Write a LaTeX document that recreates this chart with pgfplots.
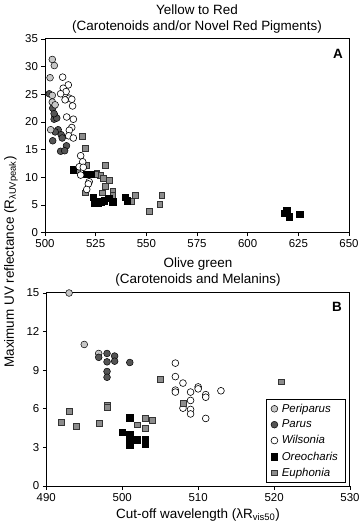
\documentclass[border=0pt]{standalone}
\usepackage{fontspec}
\setmainfont{Liberation Sans}
\usepackage{pgfplots}
\pgfplotsset{compat=1.18}
\definecolor{peri}{gray}{0.78}
\definecolor{paru}{gray}{0.33}
\definecolor{euph}{gray}{0.55}
\pgfplotsset{
  myaxis/.style={
    scale only axis, clip=false,
    axis line style={line width=1bp},
    every tick/.style={line width=0.8bp, black},
    tick align=outside, major tick length=3.5bp,
    xtick pos=bottom, ytick pos=left,
    ticklabel style={font=\fontsize{11.5}{13}\selectfont},
    /pgf/number format/assume math mode=true,
    /pgf/number format/1000 sep={},
  },
  peri/.style={only marks, mark=*, mark size=3.4bp, mark options={fill=peri, draw=black, line width=0.5bp}},
  paru/.style={only marks, mark=*, mark size=3.4bp, mark options={fill=paru, draw=black, line width=0.5bp}},
  wils/.style={only marks, mark=*, mark size=3.4bp, mark options={fill=white, draw=black, line width=0.6bp}},
  oreo/.style={only marks, mark=square*, mark size=3.2bp, mark options={fill=black, draw=black, line width=0.3bp}},
  euph/.style={only marks, mark=square*, mark size=2.9bp, mark options={fill=euph, draw=black!80, line width=0.6bp}},
}
\begin{document}
\begin{tikzpicture}
\useasboundingbox (0,0) rectangle (360bp,524bp);
% ---------------- Panel A ----------------
\begin{axis}[myaxis,
  at={(45bp,291.4bp)}, anchor=south west,
  width=304bp, height=193.6bp,
  xmin=500, xmax=650, ymin=0, ymax=35,
  xtick={500,525,...,650}, ytick={0,5,...,35},
]
\addplot[euph] coordinates {(518.6,17.4) (519.7,15.3) (514.3,11.5) (520.6,12.2) (529.9,12.1) (525.6,10.8) (527.2,10.3) (528.9,9.8) (531.6,9.4) (529.6,8.3) (528.1,7.2) (519.7,7.2) (533.5,7.5) (533.5,6.7) (544.6,6.7) (542.8,5.7) (557.6,6.7) (556.6,5.1) (551.4,3.9) (524.7,10.6) (516.0,11.2)};
\addplot[oreo] coordinates {(514.0,11.4) (520.5,10.6) (522.5,10.6) (523.8,6.4) (524.5,5.4) (526.3,5.4) (527.5,5.6) (529.3,5.8) (531.5,6.2) (533.4,5.6) (539.4,6.4) (540.5,5.8) (619.2,4.0) (618.3,3.5) (620.5,2.9) (625.7,3.3)};
\addplot[wils] coordinates {(508.7,28.1) (511.5,26.7) (509.0,26.1) (510.4,25.5) (507.7,25.1) (512.0,24.3) (509.9,24.0) (513.2,24.1) (513.6,22.9) (510.7,20.9) (514.0,20.5) (513.2,19.0) (512.0,18.5) (511.7,17.5) (514.0,17.1) (517.6,13.9) (518.6,12.8) (516.9,11.9) (518.9,11.8) (517.6,10.4) (521.8,9.2) (521.4,8.8) (520.6,7.8)};
\addplot[paru] coordinates {(502.1,25.1) (503.8,22.5) (505.0,21.0) (504.5,20.5) (505.8,20.7) (504.5,21.5) (506.5,18.6) (505.0,18.2) (508.0,17.7) (508.5,17.1) (503.8,16.6) (510.6,15.7) (507.7,14.7) (509.7,14.8)};
\addplot[peri] coordinates {(503.6,31.3) (504.6,30.2) (502.5,28.0) (503.6,24.8) (503.6,23.6) (505.0,23.1) (502.8,18.6)};
\node[font=\fontsize{13.5}{16}\selectfont\bfseries] at (rel axis cs:0.964,0.922) {A};
\end{axis}
% ---------------- Panel B ----------------
\begin{axis}[myaxis,
  at={(46.3bp,38bp)}, anchor=south west,
  width=303.7bp, height=193bp,
  xmin=490, xmax=530, ymin=0, ymax=15,
  xtick={490,500,...,530}, ytick={0,3,...,15},
  legend style={at={(0.984,0.016)}, anchor=south east, draw=black, line width=0.6bp,
    font=\fontsize{11.5}{14.5}\selectfont\itshape, inner xsep=5bp, inner ysep=3bp,
    row sep=2.3bp, column sep=2bp, cells={anchor=west}},
  legend cell align=left,
]
\addplot[peri] coordinates {(493.0,15.0) (495.0,11.0) (496.9,10.3)};
\addplot[paru] coordinates {(496.9,10.0) (498,10.3) (498,9.65) (499,10.1) (499,9.7) (498,8.9) (498,8.45) (501,9.6)};
\addplot[wils] coordinates {(507,9.55) (507,8.5) (508,8.0) (507,7.45) (507,7.3) (509,7.3) (510,7.7) (510,7.55) (511,7.1) (511,6.9) (513,7.4) (509,6.65) (508,6.05) (509,5.95) (509,5.6) (511,5.25)};
\addplot[oreo] coordinates {(501,5.3) (500,4.2) (501,4.0) (501,3.6) (501,3.2) (502,3.6) (503,3.6) (503,3.3)};
\addplot[euph] coordinates {(493,5.8) (492,4.95) (494,4.65) (497,4.85) (498,6.3) (498,6.1) (503,5.25) (504,5.1) (502,4.75) (503,4.5) (505,8.3) (508,6.45) (521,8.1)};
\legend{Periparus, Parus, Wilsonia, Oreocharis, Euphonia}
\node[font=\fontsize{13.5}{16}\selectfont\bfseries] at (rel axis cs:0.957,0.927) {B};
\end{axis}
% ---------------- Texts ----------------
\node[align=center, font=\fontsize{13.5}{17}\selectfont] at (197bp,505bp) {Yellow to Red\\(Carotenoids and/or Novel Red Pigments)};
\node[align=center, font=\fontsize{13.5}{16.5}\selectfont] at (198bp,252bp) {Olive green\\(Carotenoids and Melanins)};
\node[font=\fontsize{13.5}{16}\selectfont] at (198bp,9bp) {Cut-off wavelength (λR\textsubscript{vis50})};
\node[rotate=90, font=\fontsize{13.5}{16}\selectfont] at (11bp,262bp) {Maximum UV reflectance (R\textsubscript{λUVpeak})};
\end{tikzpicture}
\end{document}
